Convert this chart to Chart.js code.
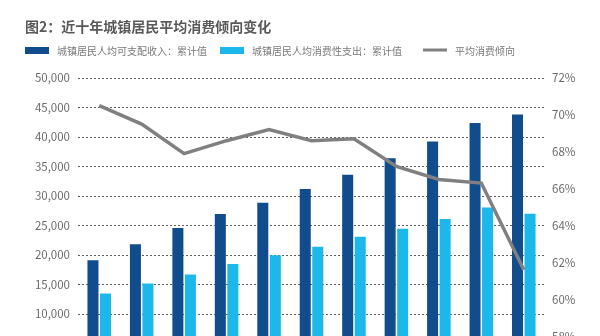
<!DOCTYPE html>
<html>
<head>
<meta charset="utf-8">
<script src="https://cdn.jsdelivr.net/npm/chart.js@4/dist/chart.umd.min.js"></script>
<style>
  html, body { margin: 0; padding: 0; background: #fff; overflow: hidden; }
  #wrap { width: 600px; height: 400px; }
</style>
</head>
<body>
<div id="wrap"><canvas id="grafica" width="600" height="400"></canvas></div>
<script>
// 年份
var anios = ["2010", "2011", "2012", "2013", "2014", "2015", "2016", "2017", "2018", "2019", "2020"];
// 城镇居民人均可支配收入 (元)
var ingreso = [19109, 21810, 24565, 26955, 28844, 31195, 33616, 36396, 39251, 42359, 43834];
// 城镇居民人均消费性支出 (元)
var gasto = [13471, 15161, 16674, 18488, 19968, 21392, 23079, 24445, 26112, 28063, 27007];
// 平均消费倾向 (%)
var propension = [70.5, 69.5, 67.9, 68.6, 69.2, 68.6, 68.7, 67.2, 66.5, 66.3, 61.6];

var titulo = "图2：近十年城镇居民平均消费倾向变化";
var fuente = "'Noto Sans CJK SC', 'Noto Sans', sans-serif";

// titulo y leyenda dibujados a mano arriba del grafico
var cabecera = {
    id: 'cabecera',
    afterDraw: function (chart) {
        var ctx = chart.ctx;
        ctx.save();
        ctx.fillStyle = "#595959";
        ctx.font = "bold 14px " + fuente;
        ctx.textBaseline = "middle";
        ctx.textAlign = "left";
        ctx.fillText(titulo, 25, 27);

        var xs = [25, 220, 423];
        ctx.font = "10px " + fuente;
        chart.data.datasets.forEach(function (ds, i) {
            var x = xs[i];
            if (ds.type === 'line') {
                ctx.strokeStyle = ds.borderColor;
                ctx.lineWidth = 3;
                ctx.beginPath();
                ctx.moveTo(x, 50);
                ctx.lineTo(x + 24, 50);
                ctx.stroke();
            } else {
                ctx.fillStyle = ds.backgroundColor;
                ctx.fillRect(x, 47, 24, 7);
            }
            ctx.fillStyle = "#7a7a7a";
            ctx.fillText(ds.label, x + 32, 51);
        });
        ctx.restore();
    }
};

var barData = {
    labels: anios,
    datasets: [{
            label: "城镇居民人均可支配收入：累计值",
            data: ingreso,
            backgroundColor: "#114c8c",
            yAxisID: 'y',
            order: 1
        },
        {
            label: "城镇居民人均消费性支出：累计值",
            data: gasto,
            backgroundColor: "#1cb8ea",
            yAxisID: 'y',
            order: 1
        },
        {
            type: 'line',
            label: "平均消费倾向",
            data: propension,
            borderColor: "#808080",
            backgroundColor: "#808080",
            borderWidth: 3.5,
            pointRadius: 0,
            tension: 0,
            fill: false,
            yAxisID: 'y1',
            order: 0
        }]
};

var opciones = {
    responsive: false,
    animation: false,
    layout: { padding: { top: 78, left: 0, right: 0, bottom: 0 } },
    datasets: {
        bar: { categoryPercentage: 0.59, barPercentage: 0.88 }
    },
    plugins: {
        legend: { display: false },
        title: { display: false },
        tooltip: { enabled: false }
    },
    scales: {
        x: {
            grid: { display: false },
            border: { display: false },
            ticks: { color: "#777", font: { size: 11, family: fuente } },
            afterFit: function (s) { s.height = 27; }
        },
        y: {
            position: 'left',
            min: 0,
            max: 50000,
            ticks: {
                stepSize: 5000,
                padding: 8,
                color: "#6b6b6b",
                font: { size: 11.5, family: fuente },
                callback: function (v) { return v.toLocaleString('en-US'); }
            },
            grid: { color: "#5c5c5c", drawTicks: false, lineWidth: 1 },
            border: { display: false, dash: [2, 2] },
            afterFit: function (s) { s.width = 78; }
        },
        y1: {
            position: 'right',
            min: 56,
            max: 72,
            ticks: {
                stepSize: 2,
                padding: 7,
                color: "#6b6b6b",
                font: { size: 11.5, family: fuente },
                callback: function (v) { return v + "%"; }
            },
            grid: { display: false, drawTicks: false },
            border: { display: false },
            afterFit: function (s) { s.width = 55; }
        }
    }
};

var grafica = new Chart("grafica", {
    type: 'bar',
    data: barData,
    options: opciones,
    plugins: [cabecera]
});
</script>
</body>
</html>
